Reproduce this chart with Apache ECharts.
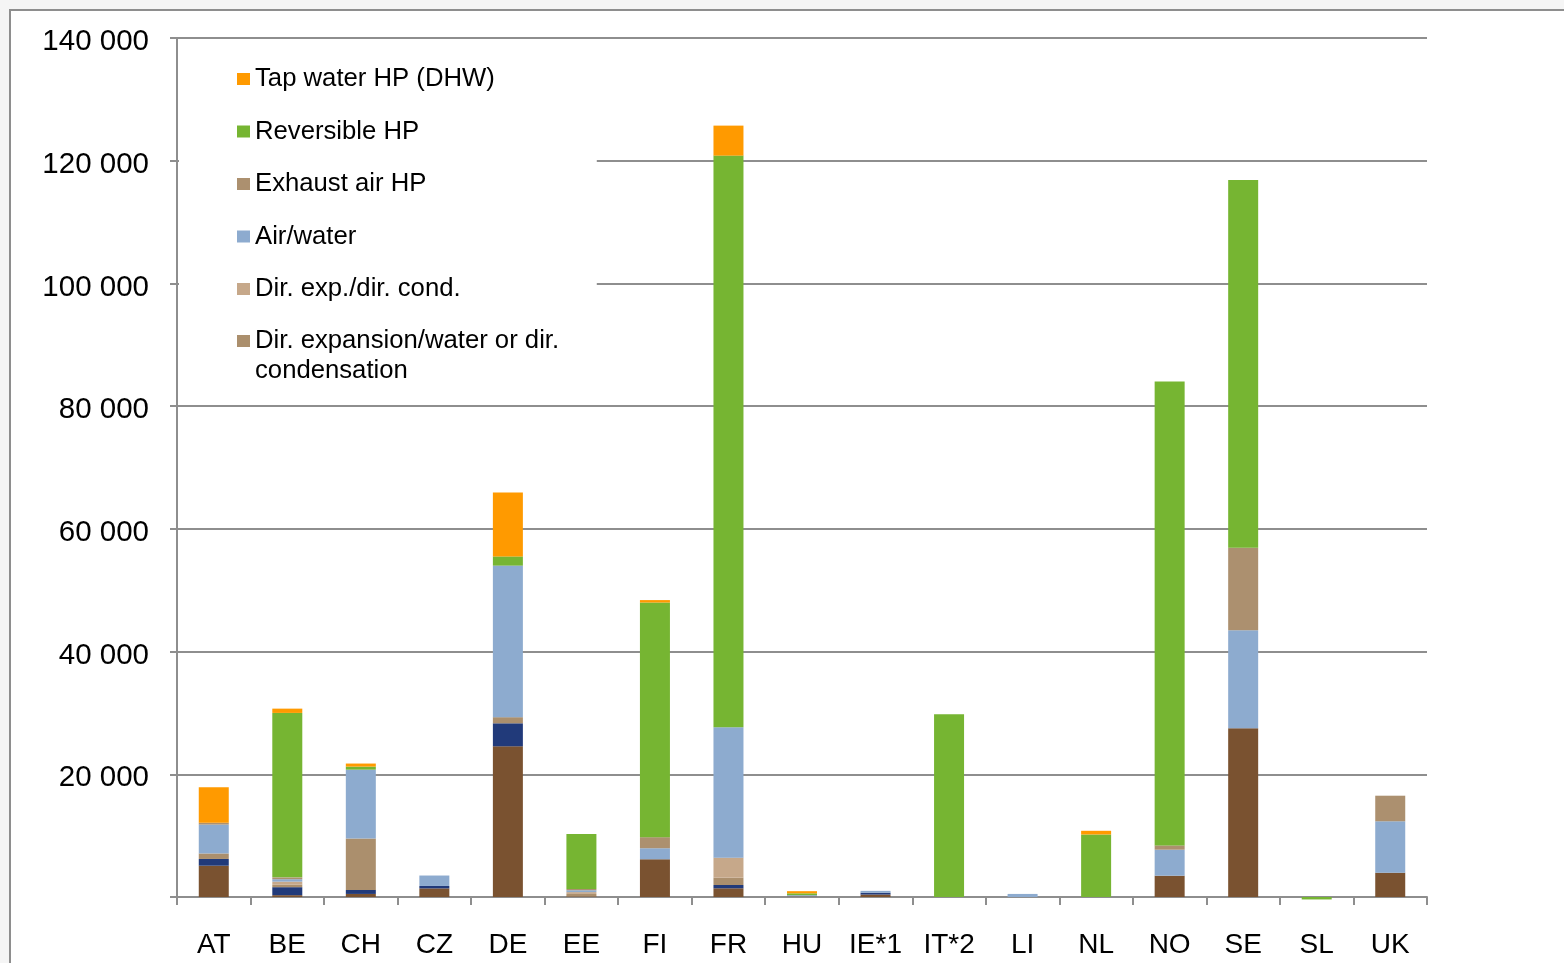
<!DOCTYPE html>
<html>
<head>
<meta charset="utf-8">
<script src="https://cdn.jsdelivr.net/npm/echarts@6/dist/echarts.min.js"></script>
<style>
  html, body { margin: 0; padding: 0; background: #f5f5f5; overflow: hidden; }
  #frame { position: absolute; left: 9px; top: 9px; width: 1600px; height: 1000px; background: #fff; border-left: 2px solid #8e8e8e; border-top: 2px solid #8e8e8e; }
  #chart { position: absolute; left: 0; top: 0; width: 1564px; height: 963px; }
</style>
</head>
<body>
<div id="frame"></div>
<div id="chart"></div>
<script>
const categories = ['AT', 'BE', 'CH', 'CZ', 'DE', 'EE', 'FI', 'FR', 'HU', 'IE*1', 'IT*2', 'LI', 'NL', 'NO', 'SE', 'SL', 'UK'];
const yTicks = [0, 20000, 40000, 60000, 80000, 100000, 120000, 140000];

// stacked from bottom to top
const groundSource   = [5100, 300, 500, 1400, 24560, 100, 6150, 1420, 100, 400, 0, 0, 0, 3470, 27500, 0, 3960];
const waterSource    = [1100, 1300, 650, 400, 3750, 0, 0, 540, 0, 300, 0, 0, 0, 0, 0, 0, 0];
const dirExpWater    = [900, 400, 8400, 0, 1000, 400, 0, 1190, 0, 0, 0, 0, 0, 0, 0, 0, 0];
const dirExpCond     = [0, 500, 0, 0, 0, 300, 0, 3260, 0, 0, 0, 0, 0, 0, 0, 0, 0];
const airWater       = [4700, 400, 11200, 1700, 24700, 300, 1800, 21250, 200, 300, 0, 500, 0, 4240, 15970, 0, 8380];
const exhaustAir     = [300, 300, 0, 0, 0, 200, 1800, 0, 0, 0, 0, 0, 0, 700, 13460, 0, 4170];
const reversible     = [0, 26800, 500, 0, 1500, 8970, 38240, 93170, 300, 0, 29800, 0, 10190, 75600, 59930, -400, 0];
const tapWater       = [5800, 700, 500, 0, 10400, 0, 400, 4890, 350, 0, 0, 0, 600, 0, 0, 0, 0];

const seriesDefs = [
  { name: 'Ground source HP', data: groundSource, color: '#7a5230' },
  { name: 'Water/water HP', data: waterSource, color: '#213a7a' },
  { name: 'Dir. expansion/water or dir. condensation', data: dirExpWater, color: '#ab8f6d' },
  { name: 'Dir. exp./dir. cond.', data: dirExpCond, color: '#c6a88a' },
  { name: 'Air/water', data: airWater, color: '#8dabcf' },
  { name: 'Exhaust air HP', data: exhaustAir, color: '#ac906f' },
  { name: 'Reversible HP', data: reversible, color: '#76b532' },
  { name: 'Tap water HP (DHW)', data: tapWater, color: '#ff9a00' }
];

const FONT = "'Liberation Sans', Arial, sans-serif";
const GRAY = '#8e8e8e';

const chart = echarts.init(document.getElementById('chart'), null, { renderer: 'canvas' });
chart.setOption({
  animation: false,
  backgroundColor: 'transparent',
  textStyle: { fontFamily: FONT, color: '#000' },
  grid: { left: 177, right: 137, top: 38, bottom: 66, containLabel: false },
  legend: [
    {
      orient: 'vertical',
      left: 179, top: 45,
      padding: [21, 102, 6, 58],
      backgroundColor: '#fff',
      itemWidth: 13, itemHeight: 12, itemGap: 26.5,
      icon: 'rect',
      selectedMode: false,
      textStyle: { fontSize: 25.7, fontFamily: FONT, color: '#000' },
      data: ['Tap water HP (DHW)', 'Reversible HP', 'Exhaust air HP', 'Air/water', 'Dir. exp./dir. cond.']
    },
    {
      orient: 'vertical',
      left: 179, top: 296,
      padding: [0, 35, 10, 58],
      backgroundColor: '#fff',
      itemWidth: 13, itemHeight: 12,
      icon: 'rect',
      selectedMode: false,
      textStyle: { fontSize: 25.7, lineHeight: 30, fontFamily: FONT, color: '#000' },
      formatter: function () { return '\nDir. expansion/water or dir.\ncondensation'; },
      data: ['Dir. expansion/water or dir. condensation']
    }
  ],
  xAxis: {
    type: 'category',
    data: categories,
    boundaryGap: true,
    axisLine: { lineStyle: { color: GRAY, width: 2 } },
    axisTick: { show: true, interval: 0, length: 8, lineStyle: { color: GRAY, width: 2 } },
    axisLabel: { interval: 0, margin: 34, fontSize: 28, color: '#000', fontFamily: FONT },
    splitLine: { show: false }
  },
  yAxis: {
    type: 'value',
    min: yTicks[0], max: yTicks[yTicks.length - 1], interval: 20000,
    axisLine: { show: true, lineStyle: { color: GRAY, width: 2 } },
    axisTick: { show: true, length: 7, lineStyle: { color: GRAY, width: 2 } },
    axisLabel: {
      margin: 28, color: '#000', fontFamily: FONT,
      formatter: function (v) { return v === 0 ? '' : '{a|' + String(v).replace(/\B(?=(\d{3})+(?!\d))/g, ' ') + '}'; },
      rich: { a: { fontSize: 29.5, fontFamily: FONT, color: '#000', padding: [8, 0, 0, 0] } }
    },
    splitLine: { show: true, lineStyle: { color: GRAY, width: 2 } }
  },
  series: seriesDefs.map(function (s) {
    return {
      name: s.name,
      type: 'bar',
      stack: 'total',
      barWidth: 30,
      clip: false,
      data: s.data,
      itemStyle: { color: s.color },
      emphasis: { disabled: true }
    };
  })
});
</script>
</body>
</html>
